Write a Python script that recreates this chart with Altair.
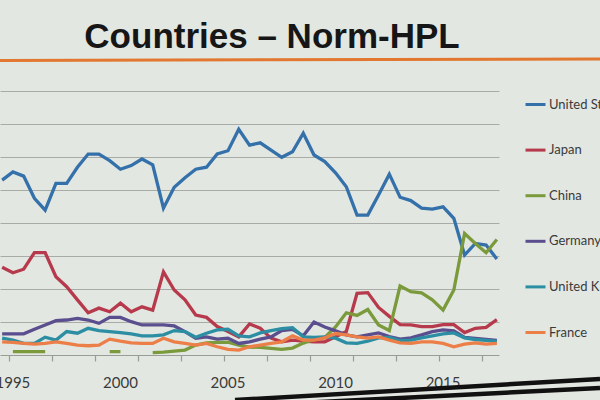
import altair as alt
import pandas as pd

# Semiannual TOP500 list dates (June = .0, November = .5)
dates = [1994.5, 1995.0, 1995.5, 1996.0, 1996.5, 1997.0, 1997.5, 1998.0, 1998.5, 1999.0,
         1999.5, 2000.0, 2000.5, 2001.0, 2001.5, 2002.0, 2002.5, 2003.0, 2003.5, 2004.0,
         2004.5, 2005.0, 2005.5, 2006.0, 2006.5, 2007.0, 2007.5, 2008.0, 2008.5, 2009.0,
         2009.5, 2010.0, 2010.5, 2011.0, 2011.5, 2012.0, 2012.5, 2013.0, 2013.5, 2014.0,
         2014.5, 2015.0, 2015.5, 2016.0, 2016.5, 2017.0, 2017.5]

countries = ["United States", "Japan", "China", "Germany", "United Kingdom", "France"]

united_states = [53.0, 55.5, 54.2, 47.5, 43.9, 52.0, 52.0, 56.9, 60.9, 60.9,
                 58.9, 56.3, 57.4, 59.4, 57.6, 44.5, 50.8, 53.7, 56.3, 56.9,
                 60.9, 61.9, 68.4, 63.6, 64.3, 62.1, 59.9, 61.6, 67.2, 60.6,
                 58.6, 55.2, 51.0, 42.4, 42.4, 48.5, 54.8, 47.8, 46.8, 44.5,
                 44.2, 44.9, 41.4, 30.3, 33.8, 33.3, 29.1]
japan = [26.6, 24.9, 26.0, 31.0, 31.0, 23.7, 20.7, 16.7, 12.8, 14.2,
         13.1, 15.7, 13.1, 14.6, 13.6, 25.2, 19.7, 16.7, 12.1, 11.4,
         8.6, 7.1, 5.5, 9.4, 8.1, 5.1, 4.0, 4.5, 4.2, 4.0,
         4.0, 5.5, 7.1, 18.7, 18.9, 14.4, 11.7, 9.2, 9.1, 8.6,
         8.6, 9.2, 9.2, 6.8, 8.1, 8.4, 10.7]
china = [None, 1.0, 1.0, 1.0, 1.0, None, None, None, None, None,
         1.0, 1.0, None, None, 0.7, 0.9, 1.2, 1.5, 3.0, 3.7,
         3.8, 3.9, 3.0, 2.4, 2.3, 2.0, 1.7, 2.1, 3.6, 4.7,
         5.3, 8.5, 12.8, 12.0, 13.8, 9.1, 7.4, 20.9, 19.2, 18.8,
         16.7, 13.6, 19.7, 36.8, 33.8, 31.0, 35.0]
germany = [6.4, 6.4, 6.4, 7.8, 9.1, 10.4, 10.6, 11.1, 10.6, 9.6,
           11.4, 11.4, 10.1, 9.1, 9.1, 9.1, 8.8, 7.1, 5.1, 5.5,
           4.8, 5.1, 3.5, 4.0, 4.8, 5.5, 7.4, 7.8, 5.8, 10.0,
           8.5, 7.3, 6.1, 5.5, 6.1, 6.7, 5.6, 4.8, 5.2, 6.1,
           7.1, 7.6, 7.3, 5.3, 5.0, 4.7, 4.4]
united_kingdom = [5.1, 4.5, 3.5, 3.5, 5.4, 4.5, 7.1, 6.6, 8.1, 7.4,
                  7.1, 6.8, 6.4, 5.8, 5.8, 6.1, 7.4, 7.1, 5.4, 6.6,
                  7.6, 7.8, 5.8, 5.5, 6.7, 7.4, 8.0, 8.3, 5.5, 5.3,
                  5.5, 5.1, 3.7, 3.5, 4.2, 5.2, 5.3, 4.4, 4.5, 5.2,
                  5.8, 6.4, 6.7, 5.2, 4.7, 4.4, 4.1]
france = [4.0, 3.8, 3.5, 3.3, 3.5, 4.0, 3.5, 3.0, 2.8, 3.0,
          4.8, 4.2, 3.7, 3.5, 3.5, 5.1, 4.0, 3.5, 3.0, 3.5,
          2.5, 1.7, 1.5, 2.5, 3.0, 3.5, 4.0, 5.8, 4.5, 4.5,
          5.2, 6.5, 6.1, 5.5, 5.1, 5.5, 4.5, 3.7, 3.5, 4.0,
          4.0, 3.5, 2.5, 3.3, 3.7, 3.3, 3.5]

colors = ["#3470aa", "#b63a4b", "#7b9a3c", "#5a4e8e", "#2b8ea3", "#ec7e48"]

year_labels = [1995, 2000, 2005, 2010, 2015]
tick_positions = [1994.8 + k for k in range(23)] + [2017.6]

series = [united_states, japan, china, germany, united_kingdom, france]
rows = []
for name, vals in zip(countries, series):
    for d, v in zip(dates, vals):
        rows.append({"date": d, "value": v, "country": name})
df = pd.DataFrame(rows)

xscale = alt.Scale(domain=[1994.4, 2017.6], nice=False, zero=False)

lines = alt.Chart(df).mark_line(strokeWidth=3.3, invalid="break-paths-filter-domains").encode(
    x=alt.X("date:Q", scale=xscale,
            axis=alt.Axis(title=None, values=tick_positions, labels=False,
                          grid=False, domainColor="#9a9c98", domainWidth=1.2,
                          tickColor="#9a9c98", tickSize=6, tickWidth=1.2)),
    y=alt.Y("value:Q",
            scale=alt.Scale(domain=[0, 80], nice=False),
            axis=alt.Axis(title=None, values=[10, 20, 30, 40, 50, 60, 70, 80],
                          labels=False, ticks=False, domain=False,
                          grid=True, gridColor="#a9aba7", gridWidth=1.2)),
    color=alt.Color("country:N",
                    scale=alt.Scale(domain=countries, range=colors),
                    legend=alt.Legend(orient="none", legendX=524, legendY=2, title=None,
                                      symbolType="stroke", symbolSize=400, symbolStrokeWidth=3,
                                      labelFont="Lato", labelFontSize=13, labelColor="#3a3a3a",
                                      rowPadding=26.6, labelOffset=2, labelLimit=300, padding=0)),
    order=alt.Order("country:N"),
)

year_text = alt.Chart(pd.DataFrame({"year": year_labels})).mark_text(
    font="Lato", fontSize=15, color="#3a3a3a", align="center", baseline="alphabetic"
).encode(x=alt.X("year:Q", scale=xscale), y=alt.value(297), text=alt.Text("year:Q", format="d"))

title = alt.Chart(pd.DataFrame({"t": ["Countries \u2013 Norm-HPL"]})).mark_text(
    font="Liberation Sans", fontSize=35, fontWeight="bold", color="#161616",
    align="center", baseline="alphabetic"
).encode(text="t:N", x=alt.value(272), y=alt.value(-43))

orange_rule = alt.Chart(pd.DataFrame({"k": [0]})).mark_rule(
    color="#e2782f", strokeWidth=3
).encode(x=alt.value(0), x2=alt.value(600), y=alt.value(-30.5), y2=alt.value(-32))

edge1 = alt.Chart(pd.DataFrame({"k": [0]})).mark_rule(
    color="#111111", strokeWidth=4.5
).encode(x=alt.value(235), x2=alt.value(600), y=alt.value(309), y2=alt.value(288))

edge2 = alt.Chart(pd.DataFrame({"k": [0]})).mark_rule(
    color="#111111", strokeWidth=4.5
).encode(x=alt.value(300), x2=alt.value(600), y=alt.value(312), y2=alt.value(297))

chart = alt.layer(lines, year_text, title, orange_rule, edge1, edge2).properties(
    width=499, height=264,
    autosize=alt.AutoSizeParams(type="none"),
    padding={"left": 0, "top": 91, "right": 101, "bottom": 45},
    background="#e3e7e2",
).configure_view(stroke=None)

chart.save("out.html", embed_options={"renderer": "svg", "actions": False})
